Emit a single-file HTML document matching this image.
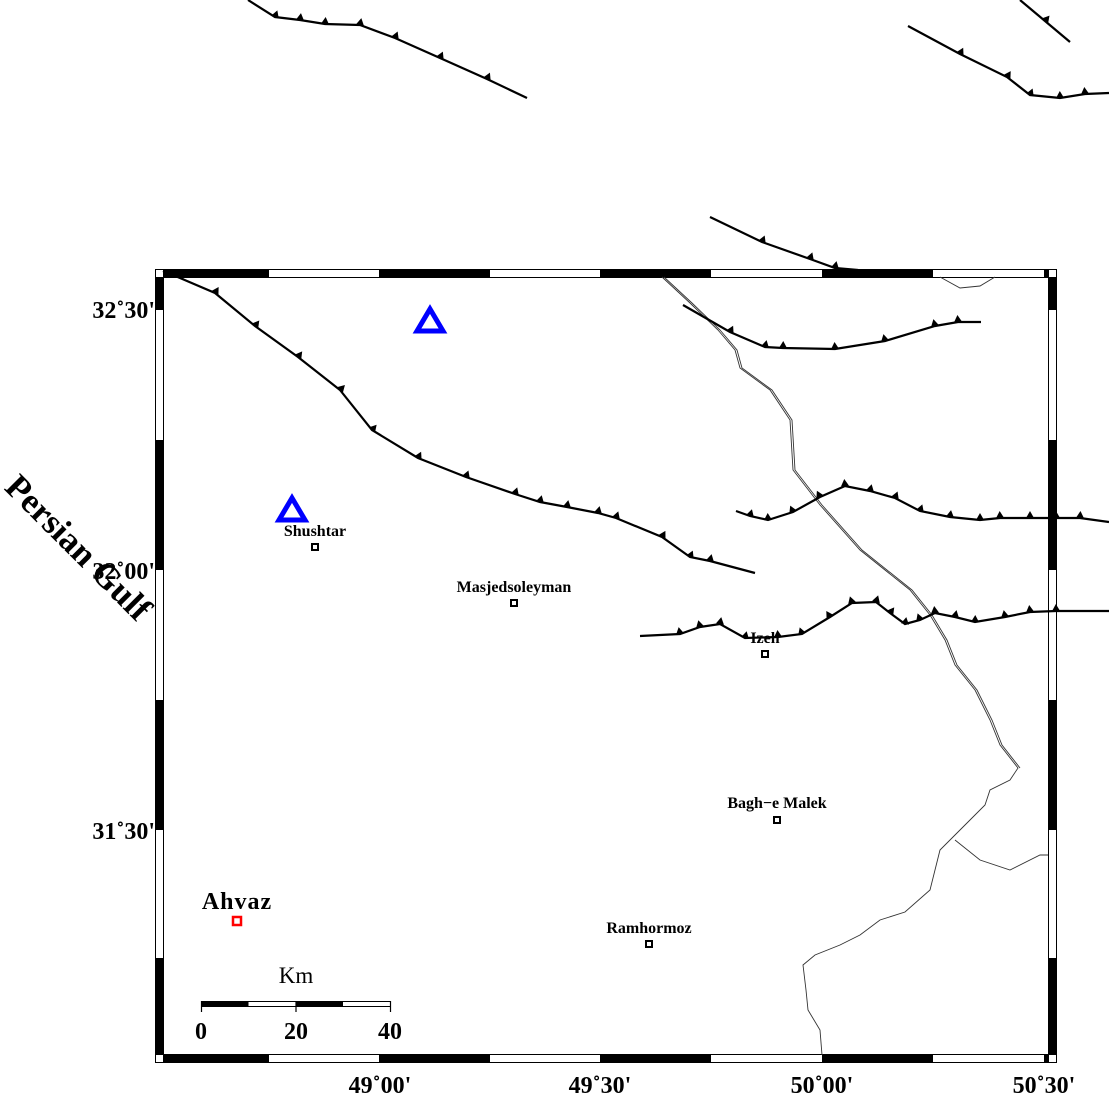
<!DOCTYPE html>
<html><head><meta charset="utf-8"><style>
html,body{margin:0;padding:0;background:#fff}
svg{display:block}
text{font-family:"Liberation Serif",serif;font-weight:bold}
</style></head><body>
<svg width="1109" height="1094" viewBox="0 0 1109 1094" xmlns="http://www.w3.org/2000/svg">
<defs>
<marker id="t" markerWidth="12" markerHeight="12" refX="6" refY="8" orient="auto" markerUnits="userSpaceOnUse" viewBox="0 0 12 12">
<path d="M2,8 L10,8 L6,1 Z" fill="#000"/>
</marker>
</defs>
<rect x="155.5" y="269.5" width="901" height="793" fill="none" stroke="#000" stroke-width="1"/>
<rect x="163.5" y="277.5" width="885" height="777" fill="none" stroke="#000" stroke-width="1"/>
<g fill="#000">
<rect x="163" y="270" width="106" height="7"/><rect x="379" y="270" width="111" height="7"/><rect x="600" y="270" width="111" height="7"/><rect x="822" y="270" width="111" height="7"/><rect x="1044" y="270" width="5" height="7"/>
<rect x="163" y="1055" width="106" height="7"/><rect x="379" y="1055" width="111" height="7"/><rect x="600" y="1055" width="111" height="7"/><rect x="822" y="1055" width="111" height="7"/><rect x="1044" y="1055" width="5" height="7"/>
<rect x="156" y="277" width="7" height="33"/><rect x="156" y="440" width="7" height="130"/><rect x="156" y="700" width="7" height="130"/><rect x="156" y="958" width="7" height="97"/>
<rect x="1049" y="277" width="7" height="33"/><rect x="1049" y="440" width="7" height="130"/><rect x="1049" y="700" width="7" height="130"/><rect x="1049" y="958" width="7" height="97"/>
</g>
<g fill="none" stroke="#333" stroke-width="0.9">
<polyline points="662,277 690,303 718,330 735,350 740,368 770,390 790,420 793,470 820,505 860,550 910,590 930,615 945,640 955,665 975,690 990,720 1000,745 1018,768 1010,780 990,790 985,805 970,820 955,835 940,850 935,870 930,890 905,912 880,920 860,935 840,945 815,955 803,965 806,990 808,1010 820,1030 822,1055"/>
<polyline points="664,277 692,303 720,330 737,350 742,368 772,390 792,420 795,470 822,505 862,550 912,590 932,615 947,640 957,665 977,690 992,720 1002,745 1020,768"/>
<polyline points="955,840 980,860 1010,870 1040,855 1048,855"/>
<polyline points="940,277 960,288 980,286 995,277"/>
</g>
<g fill="none" stroke="#000" stroke-width="2.2" marker-mid="url(#t)">
<polyline points="163,271 180,278 215,293 255,326 298,357 340,390 372,430 418,458 466,477 515,494 540,502 567,507 598,513 616,518 662,537 690,557 710,561 755,573"/>
<polyline points="248,0 275,17 300,20 325,24 360,25 395,38 440,58 487,79 527,98"/>
<polyline points="908,26 960,54 1007,77 1030,95 1060,98 1085,94 1109,93"/>
<polyline points="1020,0 1045,21 1070,42"/>
<polyline points="710,217 762,242 810,259 835,268 858,270"/>
<polyline points="683,305 730,332 765,347 783,348 835,349 885,341 935,326 958,322 981,322"/>
<polyline points="736,511 750,516 768,520 793,512 820,497 845,486 870,491 895,498 920,511 950,517 980,520 1000,518 1030,518 1056,518 1080,518 1109,522"/>
<polyline points="640,636 680,634 700,627 720,624 745,638 778,637 802,634 830,617 852,603 876,602 890,613 905,624 920,620 935,613 955,617 975,622 1005,617 1030,612 1056,611 1109,611"/>
</g>
<polygon points="430,309 417,331 443,331" fill="none" stroke="#0000ff" stroke-width="5"/>
<polygon points="292,498 279,520 305,520" fill="none" stroke="#0000ff" stroke-width="5"/>
<g fill="#fff" stroke="#000" stroke-width="2">
<rect x="312" y="544" width="6" height="6"/><rect x="511" y="600" width="6" height="6"/><rect x="762" y="651" width="6" height="6"/><rect x="774" y="817" width="6" height="6"/><rect x="646" y="941" width="6" height="6"/>
</g>
<rect x="233" y="917" width="8" height="8" fill="#fff" stroke="#ff0000" stroke-width="2.5"/>
<g font-size="16" text-anchor="middle">
<text x="315" y="536">Shushtar</text>
<text x="514" y="592">Masjedsoleyman</text>
<text x="765" y="643">Izeh</text>
<text x="777" y="808">Bagh−e Malek</text>
<text x="649" y="933">Ramhormoz</text>
</g>
<text x="237" y="909" font-size="24" letter-spacing="1" text-anchor="middle">Ahvaz</text>
<g font-size="24" text-anchor="end">
<text x="155" y="318">32˚30'</text>
<text x="155" y="579">32˚00'</text>
<text x="155" y="839">31˚30'</text>
</g>
<g font-size="24" text-anchor="middle">
<text x="380" y="1093">49˚00'</text>
<text x="600" y="1093">49˚30'</text>
<text x="822" y="1093">50˚00'</text>
<text x="1044" y="1093">50˚30'</text>
</g>
<text x="78" y="559" font-size="35" text-anchor="middle" transform="rotate(45 78 548)">Persian Gulf</text>
<text x="296" y="983" font-size="23" text-anchor="middle" style="font-weight:normal">Km</text>
<rect x="201.5" y="1001.5" width="189" height="5" fill="#fff" stroke="#000"/>
<rect x="201.5" y="1001.5" width="47" height="5" fill="#000"/>
<rect x="296" y="1001.5" width="47" height="5" fill="#000"/>
<g stroke="#000" stroke-width="1.2"><line x1="201.5" y1="1001" x2="201.5" y2="1012"/><line x1="296" y1="1001" x2="296" y2="1012"/><line x1="390.5" y1="1001" x2="390.5" y2="1012"/></g>
<g font-size="24" text-anchor="middle"><text x="201" y="1039">0</text><text x="296" y="1039">20</text><text x="390" y="1039">40</text></g>
</svg>
</body></html>
